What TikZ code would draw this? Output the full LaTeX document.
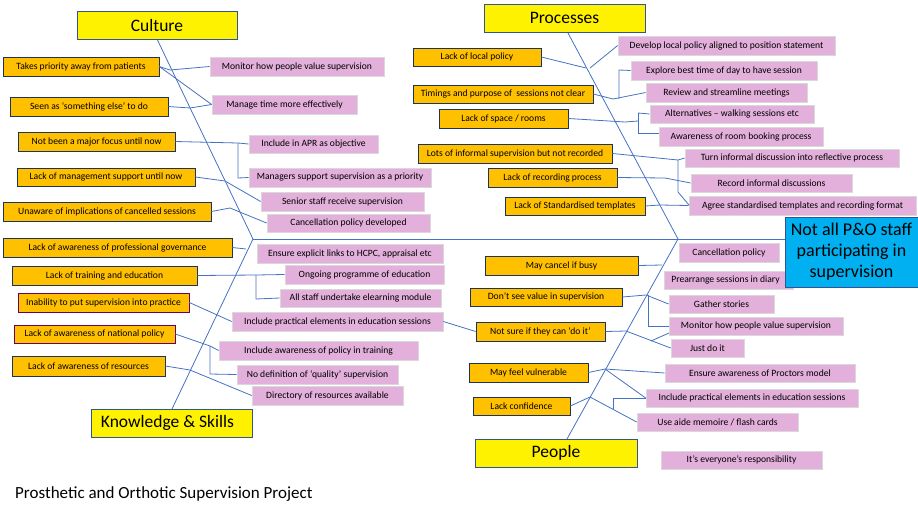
\documentclass[tikz,border=0pt]{standalone}
\usepackage{fontspec}
\setmainfont{Carlito}
\begin{document}
\begin{tikzpicture}[x=1pt,y=-1pt]
\definecolor{lc}{HTML}{4472C4}
\definecolor{orf}{HTML}{FFC000}
\definecolor{pkf}{HTML}{E2B0DA}
\definecolor{blf}{HTML}{00B0F0}
\definecolor{bd}{HTML}{2F5597}
\tikzset{
 ln/.style={draw=lc,line width=0.8pt},
 or/.style={draw=bd!60!black,fill=orf,line width=0.7pt,font=\fontsize{9.6}{11}\selectfont,inner sep=0pt},
 orp/.style={or,draw=violet!80!black},
 pk/.style={draw=black!15,fill=pkf,line width=0.7pt,font=\fontsize{9.6}{11}\selectfont,inner sep=0pt},
 yl/.style={draw=bd,fill=yellow,line width=0.8pt,font=\fontsize{17.5}{19}\selectfont,inner sep=0pt},
 bl/.style={draw=bd,fill=blf,line width=0.8pt,font=\fontsize{18}{21}\selectfont,inner sep=0pt,align=center}}
\newcommand\bx[7]{\node[#1,minimum width={(#5-#3)*1pt},minimum height={(#6-#4)*1pt}] (#2) at ({(#3+#5)/2},{(#4+#6)/2}) {#7};}
\useasboundingbox (0,0) rectangle (918,512);
% spine and bones
\coordinate (sL) at (253,239); \coordinate (sR) at (785,239);
\coordinate (cT) at (157,39); \coordinate (pT) at (568,33);
\coordinate (kB) at (172,409); \coordinate (qB) at (567,439);
\coordinate (pJ) at (678,239);
\draw[ln] (sL) -- (sR);
\draw[ln] (cT) -- (sL); \draw[ln] (pT) -- (pJ);
\draw[ln] (kB) -- (sL); \draw[ln] (qB) -- (pJ);
% headings
\bx{yl}{cul}{77}{11}{237}{39}{Culture}
\bx{yl}{pro}{484}{4}{645}{32}{Processes}
\bx{yl}{ks}{91}{409}{252}{437}{\hspace*{-8pt}Knowledge \& Skills}
\bx{yl}{peo}{475}{439}{637}{467}{People}
% culture
\bx{or}{c1}{3}{57}{159}{76}{Takes priority away from patients}
\bx{or}{c2}{10}{97}{168}{116}{Seen as ‘something else’ to do}
\bx{or}{c3}{18}{132}{175}{151}{Not been a major focus until now}
\bx{or}{c4}{17}{168}{195}{186}{Lack of management support until now}
\bx{or}{c5}{3}{202}{211}{221}{Unaware of implications of cancelled sessions}
\bx{or}{c6}{3}{238}{232}{257}{Lack of awareness of professional governance}
\bx{pk}{a1}{210}{57}{384}{76}{Monitor how people value supervision}
\bx{pk}{a2}{212}{95}{357}{114}{Manage time more effectively}
\bx{pk}{a3}{249}{135}{378}{153}{Include in APR as objective}
\bx{pk}{a4}{249}{168}{431}{187}{Managers support supervision as a priority}
\bx{pk}{a5}{261}{192}{424}{211}{Senior staff receive supervision}
\bx{pk}{a6}{267}{214}{430}{232}{Cancellation policy developed}
% K&S
\bx{or}{k1}{12}{266}{197}{285}{Lack of training and education}
\bx{orp}{k2}{18}{293}{189}{312}{Inability to put supervision into practice}
\bx{orp}{k3}{14}{325}{175}{343}{Lack of awareness of national policy}
\bx{or}{k4}{12}{356}{165}{376}{Lack of awareness of resources}
\bx{pk}{b1}{257}{244}{443}{263}{Ensure explicit links to HCPC, appraisal etc}
\bx{pk}{b2}{285}{265}{444}{284}{Ongoing programme of education}
\bx{pk}{b3}{280}{289}{441}{307}{All staff undertake elearning module}
\bx{pk}{b4}{232}{312}{443}{331}{Include practical elements in education sessions}
\bx{pk}{b5}{219}{341}{418}{360}{Include awareness of policy in training}
\bx{pk}{b6}{237}{365}{398}{384}{No definition of ‘quality’ supervision}
\bx{pk}{b7}{252}{386}{403}{405}{Directory of resources available}
% processes
\bx{or}{p1}{413}{48}{541}{66}{Lack of local policy}
\bx{or}{p2}{413}{85}{593}{103}{Timings and purpose of \ sessions not clear}
\bx{or}{p3}{439}{109}{568}{128}{Lack of space / rooms}
\bx{or}{p4}{418}{144}{612}{163}{Lots of informal supervision but not recorded}
\bx{or}{p5}{488}{168}{617}{187}{Lack of recording process}
\bx{or}{p6}{505}{197}{645}{215}{Lack of Standardised templates}
\bx{pk}{d1}{618}{36}{835}{55}{Develop local policy aligned to position statement}
\bx{pk}{d2}{631}{61}{817}{80}{Explore best time of day to have session}
\bx{pk}{d3}{646}{83}{807}{102}{Review and streamline meetings}
\bx{pk}{d4}{650}{105}{814}{123}{Alternatives – walking sessions etc}
\bx{pk}{d5}{659}{127}{823}{146}{Awareness of room booking process}
\bx{pk}{d6}{685}{149}{899}{167}{Turn informal discussion into reflective process}
\bx{pk}{d7}{691}{174}{852}{192}{Record informal discussions}
\bx{pk}{d8}{689}{196}{916}{215}{Agree standardised templates and recording format}
% people
\bx{or}{q1}{485}{256}{638}{275}{May cancel if busy}
\bx{or}{q2}{470}{288}{622}{306}{Don’t see value in supervision}
\bx{or}{q3}{476}{322}{605}{341}{Not sure if they can ‘do it’}
\bx{or}{q4}{469}{363}{588}{382}{May feel vulnerable}
\bx{or}{q5}{473}{397}{570}{415}{Lack confidence}
\bx{pk}{e1}{679}{243}{779}{262}{Cancellation policy}
\bx{pk}{e2}{664}{271}{793}{289}{\hspace*{-6pt}Prearrange sessions in diary}
\bx{pk}{e3}{669}{295}{774}{313}{Gather stories}
\bx{pk}{e4}{669}{317}{843}{335}{Monitor how people value supervision}
\bx{pk}{e5}{671}{339}{744}{357}{Just do it}
\bx{pk}{e6}{665}{364}{855}{382}{Ensure awareness of Proctors model}
\bx{pk}{e7}{646}{389}{858}{407}{Include practical elements in education sessions}
\bx{pk}{e8}{637}{413}{798}{431}{Use aide memoire / flash cards}
\bx{pk}{e9}{661}{451}{822}{469}{It’s everyone’s responsibility}
\bx{bl}{eff}{785}{217}{918}{287}{Not all P\&O staff\\participating in\\supervision}
% connectors culture
\coordinate (j1) at (170,70);
\draw[ln] (c1.east) -- (j1) -- (a1.west);
\draw[ln] (c1.east) -- (a2.west);
\draw[ln] (c2.east) -- (190,108) -- (a2.west);
\draw[ln] (c3.east) -- (238,143) -- (a3.west);
\draw[ln] (238,143) -- (238,178) -- (a4.west);
\draw[ln] (c4.east) -- (225,181) -- (a5.west);
\draw[ln] (c5.east) -- (230,208) -- (a6.west);
\draw[ln] (c6.east) -- (246,249);
% connectors K&S
\draw[ln] (k1.east) -- (256,275) -- (b2.west);
\draw[ln] (256,275) -- (256,299) -- (b3.west);
\draw[ln] (k2.east) -- (b4.west);
\draw[ln] (k3.east) -- (210,346) -- (b5.west);
\draw[ln] (210,346) -- (210,374) -- (b6.west);
\draw[ln] (k4.east) -- (190,370) -- (b7.west);
\draw[ln] (b4.east) -- (q3.west);
% connectors processes
\draw[ln] (p1.east) -- (586,68);
\draw[ln] (590,68) -- (d1.west);
\draw[ln] (p2.east) -- (613,99) -- (d3.west);
\draw[ln] (619,99) -- (619,70) -- (d2.west);
\draw[ln] (p3.east) -- (625,122) -- (638,121);
\draw[ln] (638,113) -- (d4.west); \draw[ln] (638,113) -- (638,133) -- (659,133);
\draw[ln] (p4.east) -- (678,160) -- (d6.west);
\draw[ln] (678,160) -- (678,192) -- (689,205);
\draw[ln] (p5.east) -- (665,178) -- (d7.west);
\draw[ln] (p6.east) -- (660,205) -- (d8.west);
% connectors people
\draw[ln] (q1.east) -- (662,265);
\draw[ln] (q2.east) -- (646,295) -- (e3.west);
\draw[ln] (648,295) -- (648,326) -- (e4.west);
\draw[ln] (q3.east) -- (626,331) -- (e5.west);
\draw[ln] (651,341) -- (669,333);
\draw[ln] (q4.east) -- (605,369) -- (e6.west);
\draw[ln] (605,369) -- (e7.west);
\draw[ln] (q5.east) -- (590,397) -- (e8.west);
\draw[ln] (613,409) -- (613,398) -- (646,398);
% footer
\node[anchor=west,font=\fontsize{17}{19}\selectfont,inner sep=0pt] (ft) at (15,494) {Prosthetic and Orthotic Supervision Project};
\end{tikzpicture}
\end{document}
